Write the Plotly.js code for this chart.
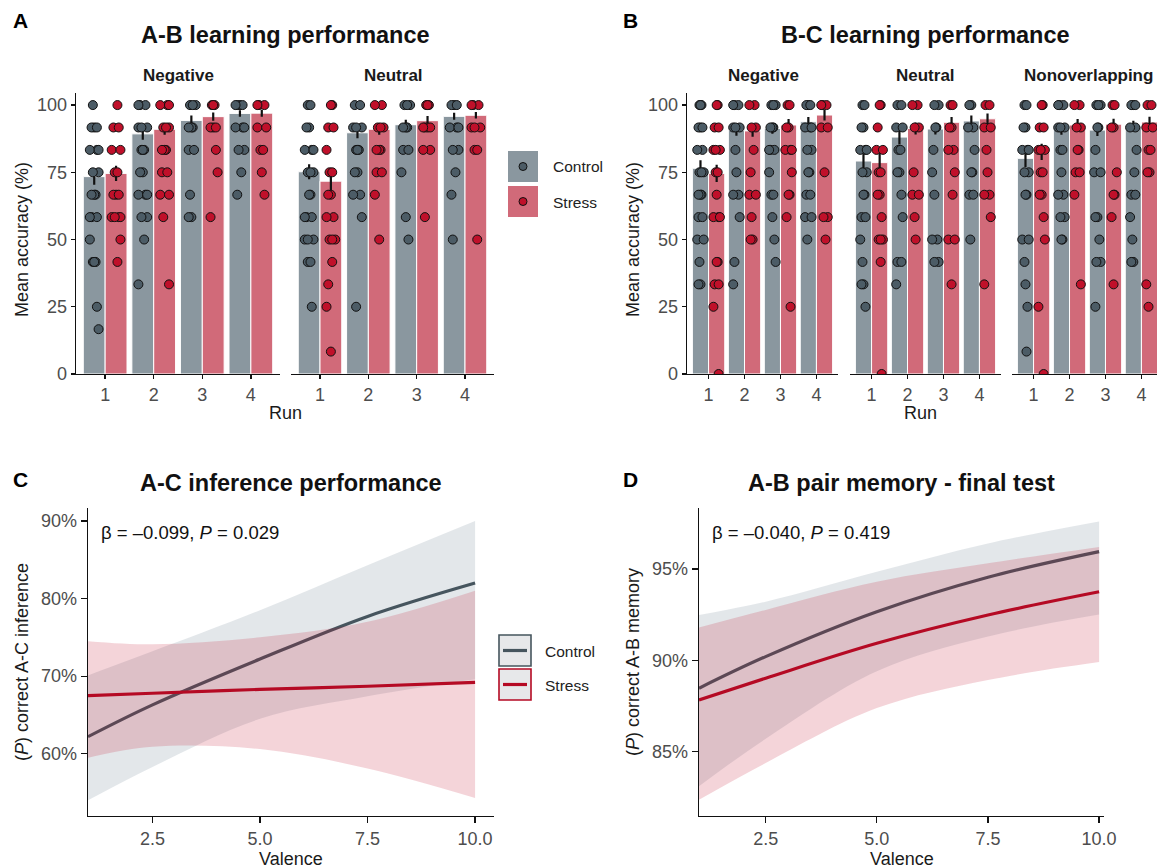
<!DOCTYPE html>
<html><head><meta charset="utf-8">
<script src="https://cdn.plot.ly/plotly-3.0.1.min.js"></script>
<style>html,body{margin:0;padding:0;background:#fff}#chart{width:1157px;height:868px}</style>
</head><body><div id="chart"></div>
<script>
// ---------------- DATA ----------------
const runs = [1, 2, 3, 4];
const groups = ['Control', 'Stress'];
const abFacets = ['Negative', 'Neutral'];
const bcFacets = ['Negative', 'Neutral', 'Nonoverlapping'];

// A-B learning: mean accuracy (%) and SE per facet x run
const abMeanCtrl   = [[73.4, 89.3, 94.3, 96.9], [75.2, 89.7, 92.7, 95.8]];
const abMeanStress = [[74.6, 91.0, 95.7, 97.0], [71.7, 91.0, 94.2, 96.2]];
const abSeCtrl     = [[3.0, 2.2, 1.8, 1.2], [2.8, 2.0, 1.8, 1.3]];
const abSeStress   = [[2.8, 2.0, 1.5, 1.3], [3.5, 2.0, 1.7, 1.2]];

// B-C learning
const bcMeanCtrl   = [[76.5, 90.6, 91.3, 93.8], [79.2, 88.1, 91.1, 94.1], [80.2, 91.0, 90.7, 92.2]];
const bcMeanStress = [[74.6, 90.4, 92.6, 96.3], [78.6, 91.3, 93.6, 94.9], [82.6, 92.6, 92.9, 93.7]];
const bcSeCtrl     = [[3.0, 2.0, 2.0, 1.8], [3.2, 2.8, 2.0, 2.0], [3.2, 2.0, 2.2, 2.0]];
const bcSeStress   = [[3.2, 2.2, 2.2, 2.0], [3.8, 2.2, 2.0, 2.0], [3.0, 2.2, 2.0, 2.0]];

// individual participants: trials correct out of 12, per facet -> run
const trialsPerRun = 12;
const abPtsCtrl = [
  [[12,11,11,11,10,10,10,9,9,8,8,8,7,7,7,6,5,5,5,3,2],
   [12,12,12,11,11,11,10,10,10,9,9,8,8,8,7,7,6,4],
   [12,12,12,11,11,11,10,10,8,7,7],
   [12,12,12,12,11,11,11,10,10,9,8]],
  [[12,12,11,11,10,10,10,9,9,9,8,8,7,7,7,6,6,6,5,5,3],
   [12,12,11,11,11,10,10,10,9,9,8,8,7,3],
   [12,12,12,11,11,11,10,10,9,7,6],
   [12,12,12,11,11,11,10,10,9,8,6]]
];
const abPtsStress = [
  [[12,11,11,10,10,9,9,8,8,8,7,7,7,7,6,5],
   [12,12,12,11,11,11,10,10,10,9,9,8,8,7,4],
   [12,12,12,11,11,11,10,9,7],
   [12,12,12,11,11,10,10,9,8]],
  [[12,12,11,11,10,9,9,8,8,7,7,6,6,6,5,4,3,1],
   [12,12,11,11,11,10,10,10,9,9,8,6],
   [12,12,12,11,11,11,11,10,10,7],
   [12,12,12,11,11,11,10,10,6]]
];
const bcPtsCtrl = [
  [[12,12,12,11,11,11,10,10,9,9,9,8,8,8,7,7,6,6,5,4,4],
   [12,12,12,11,11,11,10,9,8,8,7,5,4],
   [12,12,12,11,11,11,10,10,10,9,8,8,7,6,5],
   [12,12,12,11,11,11,10,10,9,9,8,8,7,7,6]],
  [[12,12,11,11,10,10,10,9,9,8,8,7,7,6,5,4,4,3],
   [12,12,11,11,10,10,9,9,8,7,5,5,4],
   [12,12,11,11,10,9,8,6,6,5,5],
   [12,12,11,11,10,9,9,8,8,6]],
  [[12,12,11,11,10,10,10,9,9,8,8,6,6,5,4,3,1],
   [12,12,12,11,11,11,10,10,9,8,8,7,7,6,6],
   [12,12,12,11,11,10,9,9,7,7,6,5,5,3],
   [12,12,12,11,11,10,9,8,8,7,6,5,5]]
];
const bcPtsStress = [
  [[12,12,11,11,10,10,10,9,9,8,7,7,7,5,5,4,4,3,0],
   [12,12,11,11,10,9,8,8,7,6,6],
   [12,12,11,11,10,10,10,9,8,8,7,3],
   [12,12,12,11,11,9,7,7,6]],
  [[12,12,11,10,10,9,9,8,8,7,6,6,6,5,0],
   [12,12,11,11,9,8,8,7,6],
   [12,12,11,11,10,10,9,8,6,6,4],
   [12,12,11,11,10,9,8,8,7,4]],
  [[12,12,11,11,10,10,10,9,9,8,8,7,6,3,0],
   [12,12,11,11,10,10,9,9,8,4],
   [12,12,11,11,9,8,8,7,4],
   [12,12,11,11,10,10,9,9,4,3]]
];

// C: A-C inference (% correct) vs valence
const valence = [1, 2.5, 5, 7.5, 10];
const acCtrlFit   = [62.2, 66.3, 72.2, 77.7, 82.0];
const acCtrlLo    = [54.0, 58.3, 64.5, 67.4, 69.6];
const acCtrlHi    = [70.1, 73.2, 78.5, 84.3, 90.0];
const acStressFit = [67.5, 67.8, 68.3, 68.7, 69.2];
const acStressLo  = [59.5, 60.9, 60.6, 58.1, 54.3];
const acStressHi  = [74.5, 74.1, 75.0, 77.0, 81.0];
// D: A-B pair memory final test
const abmCtrlFit   = [88.47, 90.2, 92.66, 94.55, 95.95];
const abmCtrlLo    = [83.1, 85.7, 89.4, 91.3, 92.5];
const abmCtrlHi    = [92.48, 93.21, 94.85, 96.4, 97.6];
const abmStressFit = [87.83, 89.02, 90.93, 92.48, 93.75];
const abmStressLo  = [82.36, 84.37, 87.38, 88.92, 89.9];
const abmStressHi  = [91.79, 92.76, 94.3, 95.31, 96.2];

// ---------------- STYLE ----------------
const W = 1157, H = 868;
const FONT = 'Liberation Sans, Arial, Helvetica, sans-serif';
const BAR_COL = ['#8a979f', '#d16a79'];
const PT_COL = ['#4c5c66', '#c0102a'];
const LINE_COL = ['#46555e', '#b50a24'];
const BAND_COL = ['rgba(66,92,112,0.15)', 'rgba(192,16,44,0.18)'];
const px = x => x / W, py = y => 1 - y / H;

const traces = [];
const JIT = [0, -0.055, 0.055, -0.09, 0.09, -0.028, 0.028];

function barFacet(xa, ya, means, ses, pts) {
  for (let g = 0; g < 2; g++) {
    traces.push({
      type: 'bar', x: runs, y: means[g], xaxis: xa, yaxis: ya,
      width: 0.45, offset: g === 0 ? -0.45 : 0,
      marker: {color: BAR_COL[g], line: {color: '#ffffff', width: 1}},
      error_y: {type: 'data', array: ses[g], color: '#111', thickness: 2.2, width: 0},
      showlegend: false, hoverinfo: 'skip'
    });
  }
  for (let g = 0; g < 2; g++) {
    const xs = [], ys = [];
    pts[g].forEach((arr, ri) => {
      const seen = {};
      arr.forEach(v => {
        const k = seen[v] = (seen[v] || 0) + 1;
        const s = (v * 5 + ri * 3 + g) % 7;
        xs.push(runs[ri] + (g === 0 ? -0.225 : 0.225) + JIT[(k + s) % 7]);
        ys.push(v * 100 / trialsPerRun);
      });
    });
    traces.push({
      type: 'scatter', mode: 'markers', x: xs, y: ys, xaxis: xa, yaxis: ya,
      marker: {color: PT_COL[g], size: 9, line: {color: '#111', width: 1}},
      showlegend: false, hoverinfo: 'skip'
    });
  }
}
barFacet('x', 'y', [abMeanCtrl[0], abMeanStress[0]], [abSeCtrl[0], abSeStress[0]], [abPtsCtrl[0], abPtsStress[0]]);
barFacet('x2', 'y', [abMeanCtrl[1], abMeanStress[1]], [abSeCtrl[1], abSeStress[1]], [abPtsCtrl[1], abPtsStress[1]]);
barFacet('x3', 'y2', [bcMeanCtrl[0], bcMeanStress[0]], [bcSeCtrl[0], bcSeStress[0]], [bcPtsCtrl[0], bcPtsStress[0]]);
barFacet('x4', 'y2', [bcMeanCtrl[1], bcMeanStress[1]], [bcSeCtrl[1], bcSeStress[1]], [bcPtsCtrl[1], bcPtsStress[1]]);
barFacet('x5', 'y2', [bcMeanCtrl[2], bcMeanStress[2]], [bcSeCtrl[2], bcSeStress[2]], [bcPtsCtrl[2], bcPtsStress[2]]);

function fitPanel(xa, ya, fits, los, his) {
  for (let g = 0; g < 2; g++) {
    traces.push({x: valence, y: los[g], xaxis: xa, yaxis: ya, mode: 'lines',
      line: {width: 0, shape: 'spline', color: 'rgba(0,0,0,0)'}, showlegend: false, hoverinfo: 'skip'});
    traces.push({x: valence, y: his[g], xaxis: xa, yaxis: ya, mode: 'lines',
      line: {width: 0, shape: 'spline', color: 'rgba(0,0,0,0)'}, fill: 'tonexty', fillcolor: BAND_COL[g],
      showlegend: false, hoverinfo: 'skip'});
    traces.push({x: valence, y: fits[g], xaxis: xa, yaxis: ya, mode: 'lines',
      line: {width: 3.2, shape: 'spline', color: LINE_COL[g]}, showlegend: false, hoverinfo: 'skip'});
  }
}
fitPanel('x6', 'y3', [acCtrlFit, acStressFit], [acCtrlLo, acStressLo], [acCtrlHi, acStressHi]);
fitPanel('x7', 'y4', [abmCtrlFit, abmStressFit], [abmCtrlLo, abmStressLo], [abmCtrlHi, abmStressHi]);

// ---------------- LAYOUT ----------------
const axBase = {showline: true, linecolor: '#111', linewidth: 1.4, ticks: 'outside', ticklen: 4,
  tickwidth: 1.3, tickcolor: '#111', showgrid: false, zeroline: false, fixedrange: true,
  ticklabelstandoff: 0,
  tickfont: {family: FONT, size: 18, color: '#4d4d4d'}};
const runAx = (d0, d1, anchor, r1) => Object.assign({}, axBase, {domain: [px(d0), px(d1)], anchor,
  range: [0.4, r1 || 4.6], tickvals: runs, ticktext: runs.map(String)});
const accAx = (anchor) => Object.assign({}, axBase, {domain: [py(374), py(92.7)], anchor,
  range: [0, 104.6], tickvals: [0, 25, 50, 75, 100]});

const layout = {
  width: W, height: H, margin: {l: 0, r: 0, t: 0, b: 0},
  paper_bgcolor: '#ffffff', plot_bgcolor: 'rgba(0,0,0,0)', barmode: 'overlay', showlegend: false,
  font: {family: FONT},
  xaxis: runAx(76, 280, 'y'),
  xaxis2: runAx(291, 494, 'y'),
  yaxis: accAx('x'),
  xaxis3: runAx(687, 838, 'y2'),
  xaxis4: runAx(850, 1001, 'y2'),
  xaxis5: runAx(1012, 1157, 'y2', 0.4 + 145 / 151 * 4.2),
  yaxis2: accAx('x3'),
  xaxis6: Object.assign({}, axBase, {domain: [px(88), px(494)], anchor: 'y3', range: [1, 10.44],
    tickvals: [2.5, 5, 7.5, 10], ticktext: ['2.5', '5.0', '7.5', '10.0'], ticklen: 6}),
  yaxis3: Object.assign({}, axBase, {domain: [py(816), py(508)], anchor: 'x6', range: [51.98, 91.67],
    tickvals: [60, 70, 80, 90], ticktext: ['60%', '70%', '80%', '90%'], ticklen: 6}),
  xaxis7: Object.assign({}, axBase, {domain: [px(699), px(1104)], anchor: 'y4', range: [1, 10.11],
    tickvals: [2.5, 5, 7.5, 10], ticktext: ['2.5', '5.0', '7.5', '10.0'], ticklen: 6}),
  yaxis4: Object.assign({}, axBase, {domain: [py(816), py(508)], anchor: 'x7', range: [81.47, 98.34],
    tickvals: [85, 90, 95], ticktext: ['85%', '90%', '95%'], ticklen: 6}),
  annotations: [], shapes: []
};

function ann(text, x, y, opt) {
  layout.annotations.push(Object.assign({text, x: px(x), y: py(y), xref: 'paper', yref: 'paper',
    showarrow: false, xanchor: 'center', yanchor: 'middle',
    font: {family: FONT, size: 18, color: '#1a1a1a'}}, opt || {}));
}
// panel letters
[['A', 11, 21], ['B', 621, 21], ['C', 11, 479], ['D', 621, 479]].forEach(([t, x, y]) =>
  ann('<b>' + t + '</b>', x, y, {xanchor: 'left', font: {family: FONT, size: 21, color: '#000'}}));
// titles
const TF = {family: FONT, size: 23.5, color: '#111'};
ann('<b>A-B learning performance</b>', 285, 35, {font: TF});
ann('<b>B-C learning performance</b>', 925, 35, {font: TF});
ann('<b>A-C inference performance</b>', 291, 483, {font: TF});
ann('<b>A-B pair memory - final test</b>', 902, 483, {font: TF});
// facet strips
const abCenters = [178, 393], bcCenters = [763, 925, 1088];
const SF = {family: FONT, size: 17, color: '#1a1a1a'};
abFacets.forEach((f, i) => ann('<b>' + f + '</b>', abCenters[i], 76, {font: SF}));
bcFacets.forEach((f, i) => ann('<b>' + f + '</b>', bcCenters[i], 76, {font: SF}));
// axis titles
ann('Mean accuracy (%)', 22, 240, {textangle: -90});
ann('Mean accuracy (%)', 633, 240, {textangle: -90});
ann('Run', 285, 413);
ann('Run', 920, 413);
ann('(<i>P</i>) correct A-C inference', 22, 662, {textangle: -90});
ann('(<i>P</i>) correct A-B memory', 633, 662, {textangle: -90});
ann('Valence', 291, 859);
ann('Valence', 902, 859);
// stats
ann('β = –0.099, <i>P</i> = 0.029', 99, 532, {xanchor: 'left', font: {family: FONT, size: 18.5, color: '#111'}});
ann('β = –0.040, <i>P</i> = 0.419', 710, 532, {xanchor: 'left', font: {family: FONT, size: 18.5, color: '#111'}});

// legend A/B (bars with points)
const rect = (x0, y0, x1, y1, fill, line) => layout.shapes.push({type: 'rect', xref: 'paper', yref: 'paper',
  x0: px(x0), x1: px(x1), y0: py(y1), y1: py(y0), fillcolor: fill, line: line || {width: 0}});
const circ = (cx, cy, r, fill) => layout.shapes.push({type: 'circle', xref: 'paper', yref: 'paper',
  x0: px(cx - r), x1: px(cx + r), y0: py(cy + r), y1: py(cy - r), fillcolor: fill, line: {color: '#111', width: 1}});
groups.forEach((g, i) => {
  const y0 = 151 + i * 35;
  rect(508, y0, 538, y0 + 31, BAR_COL[i]);
  circ(523, y0 + 15.5, 4, PT_COL[i]);
  ann(g, 551, y0 + 16, {xanchor: 'left', font: {family: FONT, size: 15.5, color: '#222'}});
});
// legend C (lines with ribbons)
groups.forEach((g, i) => {
  const y0 = 635 + i * 34;
  rect(499, y0, 531, y0 + 31, '#e7e8ea', {color: LINE_COL[i], width: 1.6});
  layout.shapes.push({type: 'line', xref: 'paper', yref: 'paper', x0: px(503), x1: px(527),
    y0: py(y0 + 15.5), y1: py(y0 + 15.5), line: {color: LINE_COL[i], width: 3.2}});
  ann(g, 543, y0 + 16, {xanchor: 'left', font: {family: FONT, size: 15.5, color: '#222'}});
});

Plotly.newPlot('chart', traces, layout, {displayModeBar: false, staticPlot: true});
</script>
</body></html>
